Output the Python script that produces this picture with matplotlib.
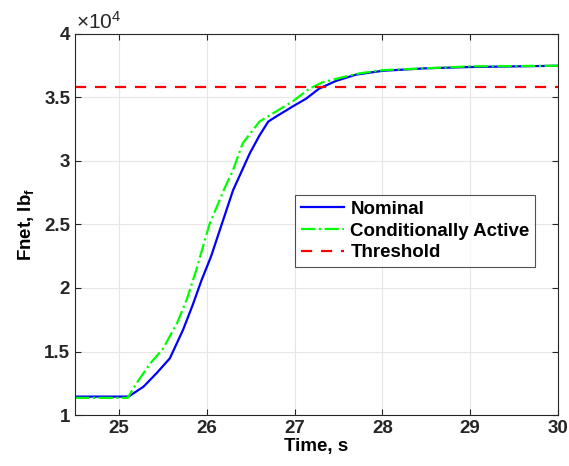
import numpy as np
import matplotlib.pyplot as plt

plt.rcParams['font.family'] = ['Liberation Sans', 'DejaVu Sans']
plt.rcParams['font.weight'] = 'bold'
plt.rcParams['mathtext.default'] = 'regular'

# values (force in units of 1e4 lbf)
t_nom = [24.5, 25.11, 25.28, 25.43, 25.58, 25.73, 25.84, 25.94, 26.05, 26.17, 26.3, 26.49,
         26.6, 26.70, 26.79, 26.98, 27.13, 27.28, 27.47, 27.70, 28.0, 28.5, 29.0, 30.0]
f_nom = [1.145, 1.145, 1.223, 1.33, 1.446, 1.67, 1.866, 2.06, 2.25, 2.50, 2.77, 3.06,
         3.20, 3.31, 3.35, 3.43, 3.49, 3.57, 3.63, 3.68, 3.71, 3.73, 3.74, 3.75]

t_ca = [24.5, 25.1, 25.2, 25.35, 25.5, 25.66, 25.77, 25.88, 26.03, 26.2, 26.3, 26.41,
        26.6, 26.79, 26.98, 27.17, 27.32, 27.55, 27.74, 28.0, 29.0, 30.0]
f_ca = [1.135, 1.135, 1.25, 1.40, 1.52, 1.72, 1.905, 2.14, 2.5, 2.78, 2.93, 3.14,
        3.31, 3.39, 3.47, 3.57, 3.62, 3.66, 3.69, 3.715, 3.745, 3.75]

threshold = 3.58
scale = 1e4

fig = plt.figure(figsize=(5.69, 4.66), dpi=100)
ax = fig.add_axes([75/569, 51/466, 483/569, 381/466])

ax.plot(t_nom, np.array(f_nom)*scale, color='#0000ff', lw=1.6, label='Nominal')
ax.plot(t_ca, np.array(f_ca)*scale, color='#00ff00', lw=1.6, ls='-.', label='Conditionally Active')
ax.axhline(threshold*scale, color='#ff0000', lw=1.6, ls=(0, (5, 4)), label='Threshold')

ax.set_xlim(24.5, 30)
ax.set_ylim(1e4, 4e4)
ax.set_xticks([25, 26, 27, 28, 29, 30])
ax.set_yticks(np.arange(1e4, 4.01e4, 0.5e4))
ax.set_yticklabels(['1', '1.5', '2', '2.5', '3', '3.5', '4'])
ax.grid(True, color='#e6e6e6', lw=0.8)
ax.set_axisbelow(True)
ax.tick_params(direction='in', top=True, right=True, labelsize=13.5, length=4,
               color='#262626', labelcolor='#262626')
for s in ax.spines.values():
    s.set_color('#262626')
    s.set_linewidth(0.8)

ax.text(0.003, 1.002, r'$\times10^{4}$', transform=ax.transAxes, fontsize=15,
        color='#262626', fontweight='normal', va='bottom', ha='left')

ax.set_xlabel('Time, s', fontsize=13.5, fontweight='bold', labelpad=1)
ax.set_ylabel(r'Fnet, lb$_{f}$', fontsize=13.5, fontweight='bold', labelpad=6)

leg = ax.legend(loc='upper left', bbox_to_anchor=((295-75)/483, (415-195)/381),
                fontsize=13.5, frameon=True, fancybox=False, borderpad=0.3,
                labelspacing=0.25, handlelength=2.3, handletextpad=0.35,
                borderaxespad=0)
leg.get_frame().set_edgecolor('#262626')
leg.get_frame().set_linewidth(0.8)
for txt in leg.get_texts():
    txt.set_fontweight('bold')

fig.savefig('out.png', dpi=100)
